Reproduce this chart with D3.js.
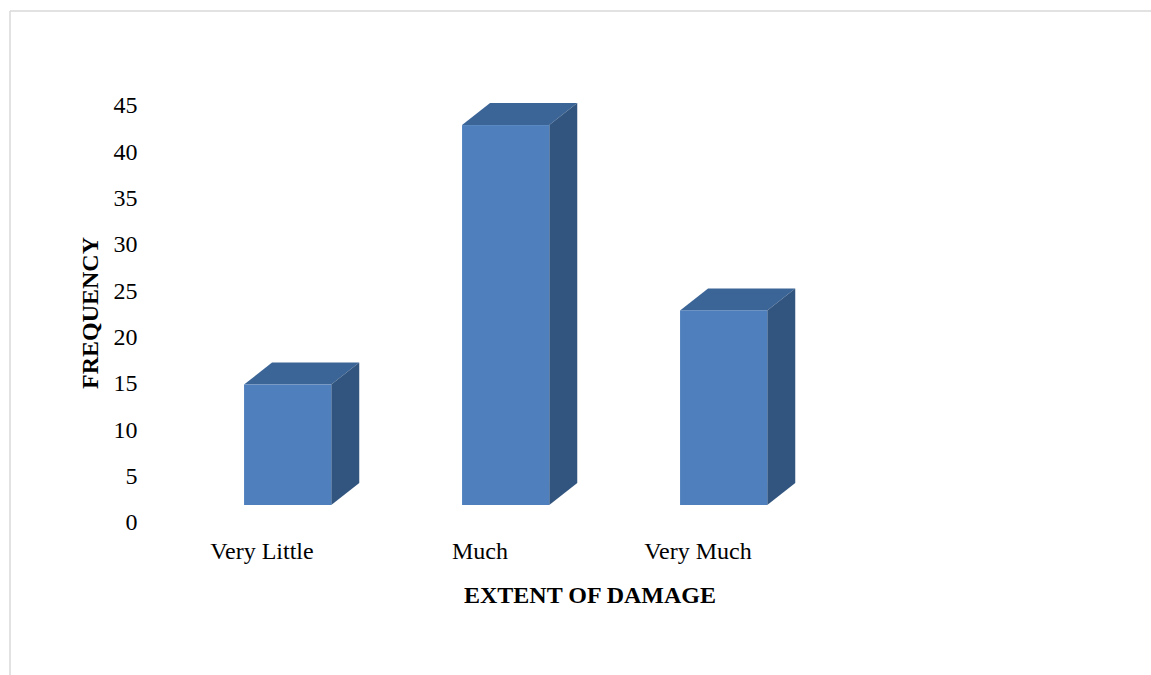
<!DOCTYPE html>
<html>
<head>
<meta charset="utf-8">
<script src="https://cdn.jsdelivr.net/npm/d3@7/dist/d3.min.js"></script>
<style>
  html, body { margin: 0; padding: 0; background: #fff; }
  svg { display: block; }
  text { font-family: "Liberation Serif", "Times New Roman", serif; fill: #000; }
</style>
</head>
<body>
<svg id="chart" width="1151" height="675"></svg>
<script>
// Survey responses: extent of damage
const categories = ["Very Little", "Much", "Very Much"];
const frequency = [13, 41, 21];
const yTicks = [0, 5, 10, 15, 20, 25, 30, 35, 40, 45];
const xTitle = "EXTENT OF DAMAGE";
const yTitle = "FREQUENCY";

const W = 1151, H = 675;
const svg = d3.select("#chart");

// frame lines along the top and left of the chart area
svg.append("line").attr("x1", 10).attr("y1", 11).attr("x2", W).attr("y2", 11)
  .attr("stroke", "#d9d9d9").attr("stroke-width", 1.5);
svg.append("line").attr("x1", 10).attr("y1", 11).attr("x2", 10).attr("y2", H)
  .attr("stroke", "#d9d9d9").attr("stroke-width", 1.5);

const y = d3.scaleLinear().domain([0, 45]).range([522, 105]);
const x = d3.scaleBand().domain(categories).range([178, 832]);

// value axis (labels only)
const yAxis = svg.append("g")
  .attr("transform", "translate(137.5,0)")
  .call(d3.axisLeft(y).tickValues(yTicks).tickSize(0).tickPadding(0));
yAxis.select(".domain").remove();
yAxis.selectAll("text")
  .style("font-family", "'Liberation Serif', 'Times New Roman', serif")
  .style("font-size", "24px").attr("fill", "#000");

// 3-D column geometry
const floorShift = 17;          // front face sits in front of the back wall
const depthX = 28, depthY = -22;
const barW = x.bandwidth() * 0.4;
const barOff = x.bandwidth() * 0.303;

const data = categories.map((c, i) => ({ c, v: frequency[i] }));
const bars = svg.append("g").selectAll("g").data(data).join("g");

bars.each(function(d) {
  const g = d3.select(this);
  const x0 = x(d.c) + barOff, x1 = x0 + barW;
  const yt = y(d.v) - floorShift, yb = y(0) - floorShift;
  // top face
  g.append("path")
    .attr("d", `M${x0},${yt} L${x0 + depthX},${yt + depthY} L${x1 + depthX},${yt + depthY} L${x1},${yt} Z`)
    .attr("fill", "#3c6597");
  // side face
  g.append("path")
    .attr("d", `M${x1},${yt} L${x1 + depthX},${yt + depthY} L${x1 + depthX},${yb + depthY} L${x1},${yb} Z`)
    .attr("fill", "#32557f");
  // front face
  g.append("rect")
    .attr("x", x0).attr("y", yt).attr("width", barW).attr("height", yb - yt)
    .attr("fill", "#4f80bd");
});

// category labels
svg.append("g").selectAll("text").data(categories).join("text")
  .attr("x", c => x(c) + x.bandwidth() / 2 - 25)
  .attr("y", 551)
  .attr("text-anchor", "middle")
  .attr("dominant-baseline", "central")
  .style("font-size", "24px")
  .text(c => c);

// axis titles
svg.append("text")
  .attr("x", 590).attr("y", 595)
  .attr("text-anchor", "middle").attr("dominant-baseline", "central")
  .style("font-size", "24px").style("font-weight", "bold")
  .text(xTitle);

svg.append("text")
  .attr("transform", "translate(90,313) rotate(-90)")
  .attr("text-anchor", "middle").attr("dominant-baseline", "central")
  .style("font-size", "24px").style("font-weight", "bold")
  .text(yTitle);
</script>
</body>
</html>
